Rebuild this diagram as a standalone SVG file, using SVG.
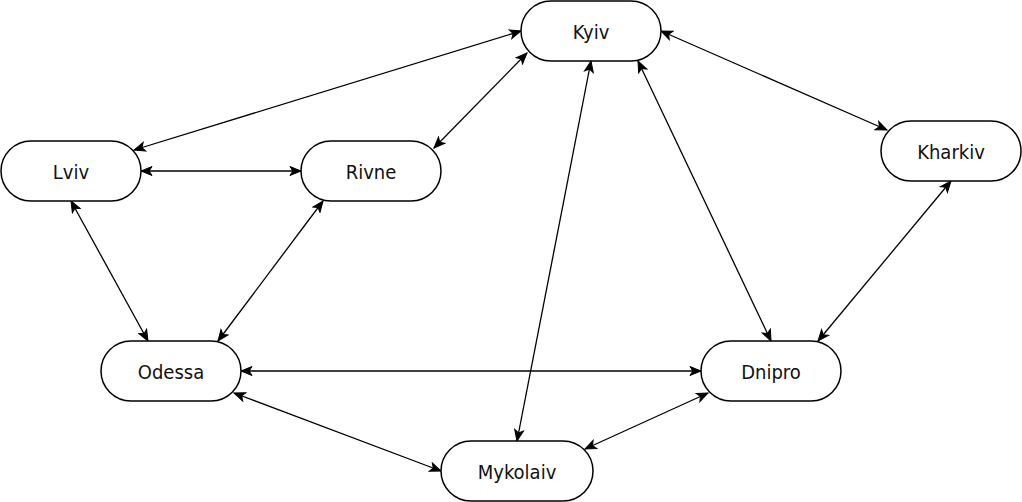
<svg xmlns="http://www.w3.org/2000/svg" width="1022" height="502" viewBox="0 0 1022 502">
<defs>
<marker id="arr" viewBox="0 0 13 11" refX="12" refY="5.5" markerWidth="13" markerHeight="11" markerUnits="userSpaceOnUse" orient="auto-start-reverse">
<path d="M1 1 L12 5.5 L1 10 L3.8 5.5 Z" fill="#000" stroke="#000" stroke-width="1" stroke-linejoin="miter"/>
</marker>
</defs>
<style>
.node rect{fill:#fff;stroke:#000;stroke-width:1.5}
.node text{font-family:"DejaVu Sans Condensed","DejaVu Sans",sans-serif;font-stretch:condensed;font-size:20px;text-anchor:middle;fill:#111}
.edges line{stroke:#000;stroke-width:1.3;marker-start:url(#arr);marker-end:url(#arr)}
</style>
<rect width="1022" height="502" fill="#fff"/>
<g class="edges">
<line x1="134" y1="150" x2="521" y2="31"/>
<line x1="141" y1="171" x2="301" y2="171"/>
<line x1="434" y1="148" x2="527" y2="53"/>
<line x1="661" y1="31" x2="887" y2="130"/>
<line x1="591" y1="61" x2="517" y2="441"/>
<line x1="638" y1="61" x2="771" y2="341"/>
<line x1="951" y1="181" x2="818" y2="341"/>
<line x1="71" y1="201" x2="148" y2="341"/>
<line x1="323" y1="201" x2="218" y2="341"/>
<line x1="241" y1="371" x2="701" y2="371"/>
<line x1="234" y1="393" x2="441" y2="471"/>
<line x1="585" y1="449" x2="708" y2="393"/>
</g>
<g id="kyiv" class="node"><rect x="521" y="1" width="140" height="60" rx="30" ry="30"/><text x="591" y="39">Kyiv</text></g>
<g id="lviv" class="node"><rect x="1" y="141" width="140" height="60" rx="30" ry="30"/><text x="71" y="179">Lviv</text></g>
<g id="rivne" class="node"><rect x="301" y="141" width="140" height="60" rx="30" ry="30"/><text x="371" y="179">Rivne</text></g>
<g id="kharkiv" class="node"><rect x="881" y="121" width="140" height="60" rx="30" ry="30"/><text x="951" y="159">Kharkiv</text></g>
<g id="odessa" class="node"><rect x="101" y="341" width="140" height="60" rx="30" ry="30"/><text x="171" y="379">Odessa</text></g>
<g id="dnipro" class="node"><rect x="701" y="341" width="140" height="60" rx="30" ry="30"/><text x="771" y="379">Dnipro</text></g>
<g id="mykolaiv" class="node"><rect x="441" y="441" width="152" height="60" rx="30" ry="30"/><text x="517" y="479">Mykolaiv</text></g>
</svg>
